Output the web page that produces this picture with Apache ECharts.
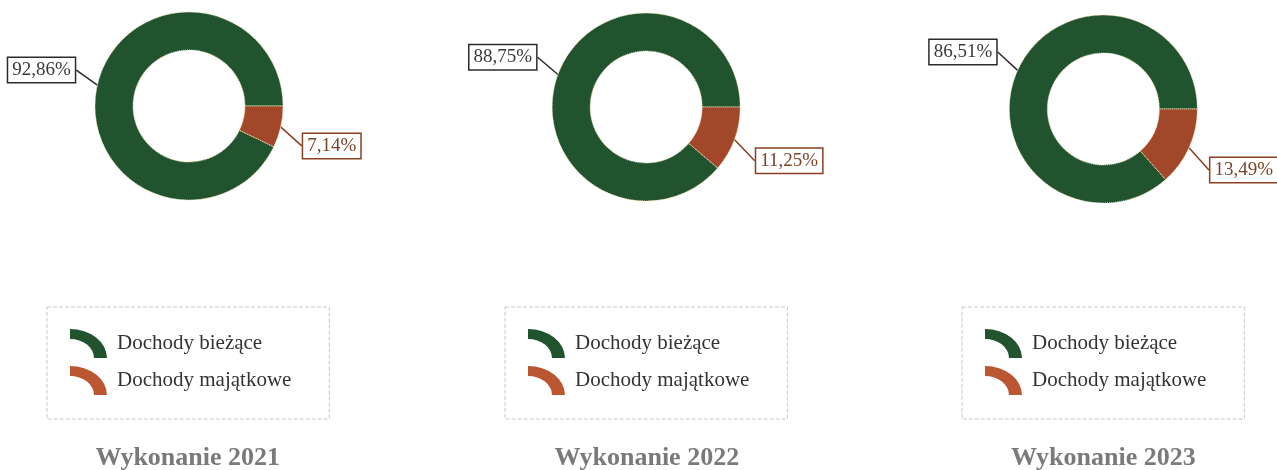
<!DOCTYPE html>
<html>
<head>
<meta charset="utf-8">
<script src="https://cdn.jsdelivr.net/npm/echarts@6/dist/echarts.min.js"></script>
<style>
html,body{margin:0;padding:0;background:#fff;}
#chart{width:1277px;height:470px;}
</style>
</head>
<body>
<div id="chart"></div>
<script>
const categories = ['Dochody bieżące', 'Dochody majątkowe'];
const years = ['Wykonanie 2021', 'Wykonanie 2022', 'Wykonanie 2023'];
const values2021 = [92.86, 7.14];
const values2022 = [88.75, 11.25];
const values2023 = [86.51, 13.49];
const labels2021 = ['92,86%', '7,14%'];
const labels2022 = ['88,75%', '11,25%'];
const labels2023 = ['86,51%', '13,49%'];

const GREEN = '#22532f';
const BROWN = '#a3472a';
const FONT = '"Liberation Serif", "DejaVu Serif", serif';
const ICON = 'path://M0,0 A37,29 0 0 1 37,29 L24,29 A24,19 0 0 0 0,10 Z';

const allValues = [values2021, values2022, values2023];
const allLabels = [labels2021, labels2022, labels2023];
const centersX = ['14.8%', '50.6%', '86.4%'];
const centerY = [106, 107, 109];

const series = allValues.map((vals, s) => ({
  type: 'pie',
  center: [centersX[s], centerY[s]],
  radius: [56, 94],
  startAngle: 0,
  clockwise: false,
  avoidLabelOverlap: false,
  silent: true,
  data: vals.map((v, i) => ({
    name: categories[i],
    value: v,
    itemStyle: { color: i === 0 ? GREEN : BROWN },
    label: {
      formatter: allLabels[s][i],
      color: i === 0 ? '#3a3a3a' : '#7a4428',
      borderColor: i === 0 ? '#2b2b2b' : '#8a3e22'
    },
    labelLine: { lineStyle: { color: i === 0 ? '#2b2b2b' : '#8a3e22', width: 1.5 } }
  })),
  itemStyle: { borderColor: '#efe6b8', borderWidth: 1, borderType: 'dotted' },
  label: {
    show: true,
    position: 'outside',
    fontFamily: FONT,
    fontSize: 19,
    backgroundColor: '#fff',
    borderWidth: 1.5,
    padding: [3, 4, 2, 4]
  },
  labelLine: { show: true, length: 18, length2: 0, smooth: false },
  labelLayout: function (p) {
    const dy = p.dataIndex === 0 ? -11 : 15;
    return { y: p.labelRect.y + p.labelRect.height / 2 + dy, verticalAlign: 'middle' };
  }
}));

const legendLefts = [47, 505, 962];
const legends = legendLefts.map(l => ({
  orient: 'vertical',
  left: l,
  top: 307,
  itemWidth: 37,
  itemHeight: 29,
  itemGap: 8,
  borderColor: '#c8c8c8',
  borderWidth: 1,
  borderType: 'dashed',
  padding: [22, 38, 24, 23],
  selectedMode: false,
  itemStyle: { borderWidth: 0 },
  textStyle: { fontFamily: FONT, fontSize: 21, color: '#333', padding: [0, 0, 0, 5] },
  data: [
    { name: categories[0], icon: ICON, itemStyle: { color: GREEN, borderWidth: 0 } },
    { name: categories[1], icon: ICON, itemStyle: { color: '#bb5632', borderWidth: 0 } }
  ]
}));

const titleCenters = ['14.7%', '50.65%', '86.4%'];
const titles = years.map((t, i) => ({
  text: t,
  left: titleCenters[i],
  top: 445,
  padding: 0,
  textAlign: 'center',
  textStyle: { fontFamily: FONT, fontSize: 26, fontWeight: 'bold', color: '#7a7a7a' }
}));

const chart = echarts.init(document.getElementById('chart'));
chart.setOption({
  animation: false,
  backgroundColor: '#fff',
  title: titles,
  legend: legends,
  series: series
});
</script>
</body>
</html>
